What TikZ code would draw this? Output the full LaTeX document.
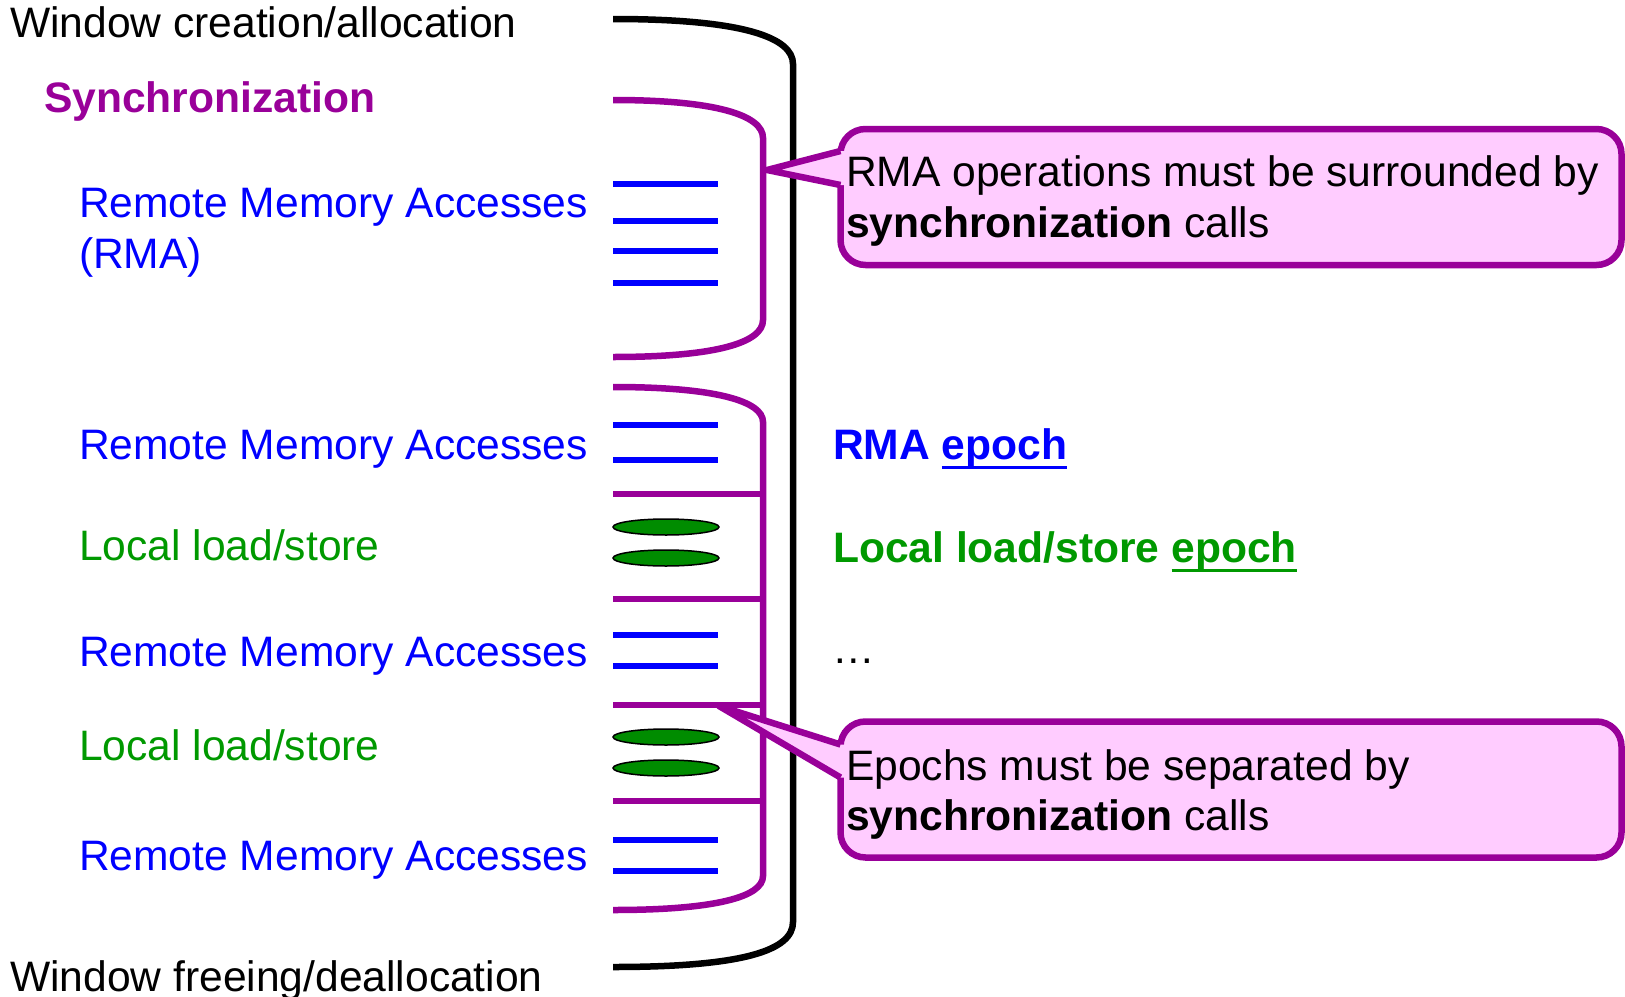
\documentclass[tikz,border=0pt]{standalone}
\usepackage{fontspec}
\setmainfont{Liberation Sans}
\usetikzlibrary{calc}

\definecolor{syncc}{RGB}{153,0,153}
\definecolor{rmac}{RGB}{0,0,255}
\definecolor{locc}{RGB}{0,153,0}
\definecolor{locfill}{RGB}{0,140,0}
\definecolor{notefill}{RGB}{255,204,255}

% thick underline used for the word "epoch"
\newcommand{\epochul}[1]{\setbox0\hbox{#1}\leavevmode\rlap{\rule[-9.5pt]{\wd0}{3pt}}\box0}
\newcommand{\bigtext}{\fontsize{42.6}{50}\selectfont}

\begin{document}
\begin{tikzpicture}[x=1pt,y=-1pt,
  lbl/.style={anchor=base west, inner sep=0pt, outer sep=0pt, font=\bigtext},
  boldlbl/.style={lbl, font=\bigtext\bfseries},
  winline/.style={draw=black, line width=6.5pt},
  syncline/.style={draw=syncc, line width=6.5pt},
  rmaline/.style={draw=rmac, line width=6.8pt},
  locblob/.style={draw=black, line width=1.5pt, fill=locfill},
  notebox/.style={draw=syncc, line width=6.5pt, fill=notefill,
                  rounded corners=25pt, inner sep=0pt, outer sep=0pt,
                  minimum width=781pt, minimum height=136pt}]
\useasboundingbox (0,0) rectangle (1625,996);

% ---- window bracket (creation ... freeing)
\draw[winline] (613,19) .. controls (745,19) and (793,38) .. (793,64)
  -- (793,922) .. controls (793,950) and (745,967) .. (613,967);

% ---- first synchronization bracket
\draw[syncline] (613,100) .. controls (715,100) and (763,115) .. (763,138)
  -- (763,320) .. controls (763,343) and (715,357) .. (613,357);
\foreach \y in {184,221,251,283}
  \draw[rmaline] (613,\y) -- (718,\y);

% ---- second synchronization bracket with epoch separators
\draw[syncline] (613,387) .. controls (715,387) and (763,401) .. (763,422)
  -- (763,876) .. controls (763,897) and (715,910) .. (613,910);
\foreach \y in {494,599,705,801}
  \draw[syncline] (613,\y) -- (763,\y);
\foreach \y in {425,460,635,666,840,871}
  \draw[rmaline] (613,\y) -- (718,\y);
\foreach \y in {527,558,737,768}
  \draw[locblob] (666,\y) ellipse [x radius=53, y radius=8];

% ---- left labels
\node[lbl] (wcreate) at (10,37) {Window creation/allocation};
\node[boldlbl, text=syncc] (sync) at (44,112) {Synchronization};
\node[lbl, text=rmac] (rma1) at (79,217) {Remote Memory Accesses};
\node[lbl, text=rmac] (rma1b) at (79,268) {(RMA)};
\node[lbl, text=rmac] (rma2) at (79,459) {Remote Memory Accesses};
\node[lbl, text=locc] (loc1) at (79,560) {Local load/store};
\node[lbl, text=rmac] (rma3) at (79,666) {Remote Memory Accesses};
\node[lbl, text=locc] (loc2) at (79,760) {Local load/store};
\node[lbl, text=rmac] (rma4) at (79,870) {Remote Memory Accesses};
\node[lbl] (wfree) at (10,991) {Window freeing/deallocation};

% ---- right labels
\node[boldlbl, text=rmac] (rmaep) at (833,459) {RMA \epochul{epoch}};
\node[boldlbl, text=locc] (locep) at (833,562) {Local load/store \epochul{epoch}};
\node[lbl] (dots) at (832,663) {…};

% ---- callout 1
\node[notebox] (note1) at (1231,197) {};
\coordinate (tip1) at (767,170);
\path (note1.north west) ++(0,22) coordinate (p1a) ++(0,34) coordinate (p1b);
\fill[notefill] (tip1) -- (p1a) -- ++(6,0) |- (p1b) -- cycle;
\draw[syncline, line join=round] (p1a) -- (tip1) -- (p1b);
\node[lbl] (n1a) at (846,186) {RMA operations must be surrounded by};
\node[lbl] (n1b) at (846,237) {\textbf{synchronization} calls};

% ---- callout 2
\node[notebox] (note2) at (1231,789.5) {};
\coordinate (tip2) at (719,706);
\path (note2.north west) ++(0,23) coordinate (p2a) ++(0,33) coordinate (p2b);
\fill[notefill] (tip2) -- (p2a) -- ++(6,0) |- (p2b) -- cycle;
\draw[syncline, line join=round] (p2a) -- (tip2) -- (p2b);
\node[lbl] (n2a) at (846,780) {Epochs must be separated by};
\node[lbl] (n2b) at (846,830) {\textbf{synchronization} calls};
\end{tikzpicture}
\end{document}
